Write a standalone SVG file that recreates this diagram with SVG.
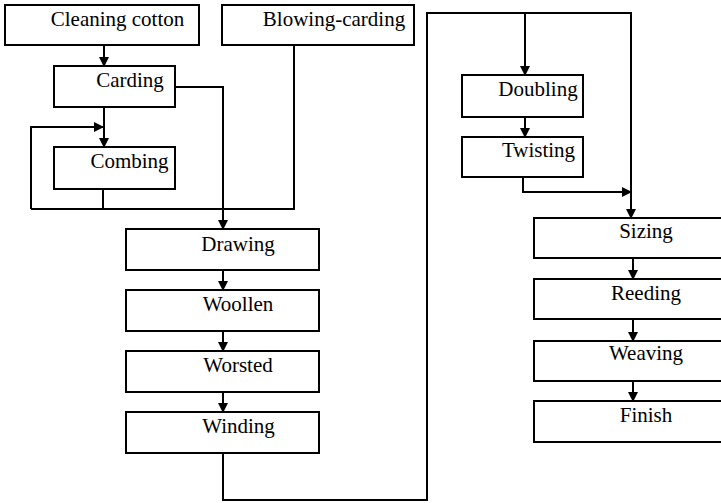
<svg xmlns="http://www.w3.org/2000/svg" width="721" height="503" viewBox="0 0 721 503">
<style>
.box{fill:#fff;stroke:#000;stroke-width:2}
.lbl{font-family:'Liberation Serif','DejaVu Serif',serif;font-size:21px;fill:#000;text-anchor:middle}
.con{fill:none;stroke:#000;stroke-width:2}
</style>
<defs>
<marker id="ah" markerWidth="10" markerHeight="10" refX="9" refY="5" orient="auto" markerUnits="userSpaceOnUse">
<path d="M0,0 L10,5 L0,10 Z" fill="#000"/>
</marker>
</defs>
<rect width="721" height="503" fill="#fff"/>
<g id="connectors">
<path class="con" d="M104,45 V66" marker-end="url(#ah)"/>
<path class="con" d="M104,107 V147" marker-end="url(#ah)"/>
<path class="con" d="M103,189 V209 M31,209 H294 V45 M31,209 V127 H103" marker-end="url(#ah)"/>
<path class="con" d="M175,87 H223 V229" marker-end="url(#ah)"/>
<path class="con" d="M223,270 V290" marker-end="url(#ah)"/>
<path class="con" d="M223,331 V351" marker-end="url(#ah)"/>
<path class="con" d="M223,392 V412" marker-end="url(#ah)"/>
<path class="con" d="M223,453 V500 H427 V13 H631 V218" marker-end="url(#ah)"/>
<path class="con" d="M525,13 V75" marker-end="url(#ah)"/>
<path class="con" d="M525,117 V137" marker-end="url(#ah)"/>
<path class="con" d="M523,177 V192 H631" marker-end="url(#ah)"/>
<path class="con" d="M633,258 V279" marker-end="url(#ah)"/>
<path class="con" d="M633,319 V341" marker-end="url(#ah)"/>
<path class="con" d="M633,381 V401" marker-end="url(#ah)"/>
</g>
<g id="cleaning"><rect class="box" x="5" y="5" width="194" height="40"/><text class="lbl" x="117.5" y="26" font-family="Liberation Serif, serif">Cleaning cotton</text></g>
<g id="blowing"><rect class="box" x="222" y="5" width="192" height="40"/><text class="lbl" x="334" y="26">Blowing-carding</text></g>
<g id="carding"><rect class="box" x="54" y="66" width="121" height="41"/><text class="lbl" x="130" y="87">Carding</text></g>
<g id="combing"><rect class="box" x="54" y="147" width="121" height="42"/><text class="lbl" x="129.5" y="168">Combing</text></g>
<g id="drawing"><rect class="box" x="126" y="229" width="193" height="41"/><text class="lbl" x="238" y="251">Drawing</text></g>
<g id="woollen"><rect class="box" x="126" y="290" width="193" height="41"/><text class="lbl" x="238" y="311">Woollen</text></g>
<g id="worsted"><rect class="box" x="126" y="351" width="193" height="41"/><text class="lbl" x="238" y="372">Worsted</text></g>
<g id="winding"><rect class="box" x="126" y="412" width="193" height="41"/><text class="lbl" x="238.5" y="433">Winding</text></g>
<g id="doubling"><rect class="box" x="462" y="75" width="121" height="42"/><text class="lbl" x="538" y="96">Doubling</text></g>
<g id="twisting"><rect class="box" x="462" y="137" width="121" height="40"/><text class="lbl" x="538.5" y="157">Twisting</text></g>
<g id="sizing"><rect class="box" x="534" y="218" width="190" height="40"/><text class="lbl" x="646" y="238">Sizing</text></g>
<g id="reeding"><rect class="box" x="534" y="279" width="190" height="40"/><text class="lbl" x="646" y="300">Reeding</text></g>
<g id="weaving"><rect class="box" x="534" y="341" width="190" height="40"/><text class="lbl" x="646" y="360">Weaving</text></g>
<g id="finish"><rect class="box" x="534" y="401" width="190" height="41"/><text class="lbl" x="646" y="422">Finish</text></g>
</svg>
